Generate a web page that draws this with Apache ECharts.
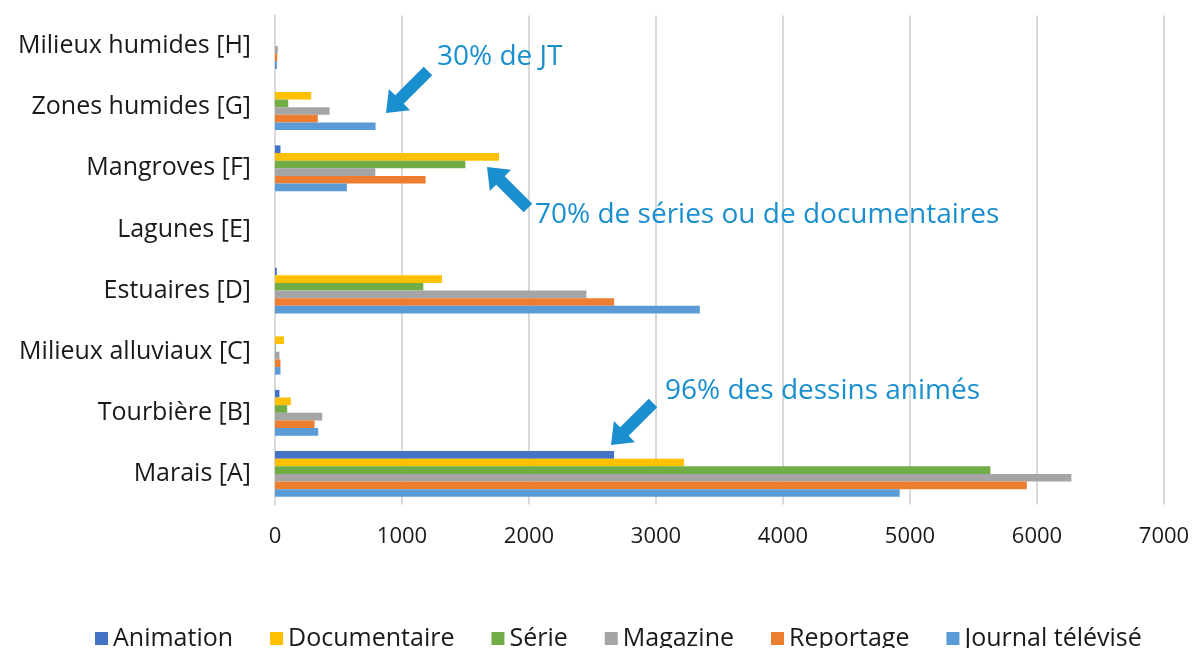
<!DOCTYPE html>
<html><head><meta charset="utf-8">
<script src="https://cdn.jsdelivr.net/npm/echarts@6/dist/echarts.min.js"></script>
<style>html,body{margin:0;padding:0;background:#fff}#c{width:1197px;height:648px}</style>
</head><body><div id="c"></div>
<script>
const categories = ['Marais [A]','Tourbière [B]','Milieux alluviaux [C]','Estuaires [D]','Lagunes [E]','Mangroves [F]','Zones humides [G]','Milieux humides [H]'];
const animation     = [2670, 35, 0, 14, 0, 43, 0, 0];
const documentaire  = [3221, 125, 70, 1315, 0, 1764, 285, 0];
const serie         = [5633, 96, 5, 1168, 0, 1499, 104, 0];
const magazine      = [6271, 372, 35, 2452, 0, 790, 430, 22];
const reportage     = [5920, 311, 43, 2670, 0, 1186, 337, 18];
const journal       = [4919, 340, 43, 3345, 0, 566, 792, 15];
const xTicks = [0,1000,2000,3000,4000,5000,6000,7000];
const annotations = ['30% de JT','70% de séries ou de documentaires','96% des dessins animés'];

const FONT = 'Open Sans';
const ACC = '#1A8FCF';
function arrow(x1,y1,x2,y2){
  const w=12, hw=30, hl=19;
  const dx=x2-x1, dy=y2-y1, L=Math.hypot(dx,dy), ux=dx/L, uy=dy/L, nx=-uy, ny=ux;
  const bx=x2-ux*hl, by=y2-uy*hl;
  return {type:'polygon', z:10, shape:{points:[
    [x1+nx*w/2,y1+ny*w/2],[bx+nx*w/2,by+ny*w/2],[bx+nx*hw/2,by+ny*hw/2],[x2,y2],
    [bx-nx*hw/2,by-ny*hw/2],[bx-nx*w/2,by-ny*w/2],[x1-nx*w/2,y1-ny*w/2]]},
    style:{fill:ACC}};
}
const series = [
  ['Animation', animation, '#4472C4'],
  ['Documentaire', documentaire, '#FFC000'],
  ['Série', serie, '#70AD47'],
  ['Magazine', magazine, '#A5A5A5'],
  ['Reportage', reportage, '#ED7D31'],
  ['Journal télévisé', journal, '#5B9BD5']
].map(([n,d,c])=>({name:n,type:'bar',data:d,itemStyle:{color:c},barGap:'0%',barCategoryGap:'25%',animation:false}));

const chart = echarts.init(document.getElementById('c'));
chart.setOption({
  animation:false,
  textStyle:{fontFamily:FONT},
  grid:{left:275,right:33,top:15.5,bottom:143.5,containLabel:false},
  xAxis:{type:'value',min:xTicks[0],max:xTicks[xTicks.length-1],interval:1000,
    axisLine:{show:false},axisTick:{show:false},
    splitLine:{lineStyle:{color:'#D9D9D9',width:2}},
    axisLabel:{fontSize:22,color:'#1a1a1a',margin:21,fontFamily:FONT,formatter:v=>String(v)}},
  yAxis:{type:'category',data:categories,
    axisLine:{lineStyle:{color:'#D9D9D9',width:2}},axisTick:{show:false},
    axisLabel:{fontSize:25,color:'#1a1a1a',margin:24,fontFamily:FONT}},
  legend:{top:621,left:90,itemWidth:13,itemHeight:13,itemGap:37,icon:'rect',
    data:['Animation','Documentaire','Série','Magazine','Reportage','Journal télévisé'],
    textStyle:{fontSize:25,color:'#1a1a1a',fontFamily:FONT,padding:[0,0,0,0]}},
  series:series,
  graphic:[
    arrow(428,71,386,113),
    arrow(528,208,487,167),
    arrow(653,403,611,445),
    {type:'text',left:437,top:43,z:10,style:{text:annotations[0],fill:ACC,font:'28px "'+FONT+'"'}},
    {type:'text',left:535,top:201,z:10,style:{text:annotations[1],fill:ACC,font:'28px "'+FONT+'"'}},
    {type:'text',left:665,top:377,z:10,style:{text:annotations[2],fill:ACC,font:'28px "'+FONT+'"'}}
  ]
});
</script></body></html>
